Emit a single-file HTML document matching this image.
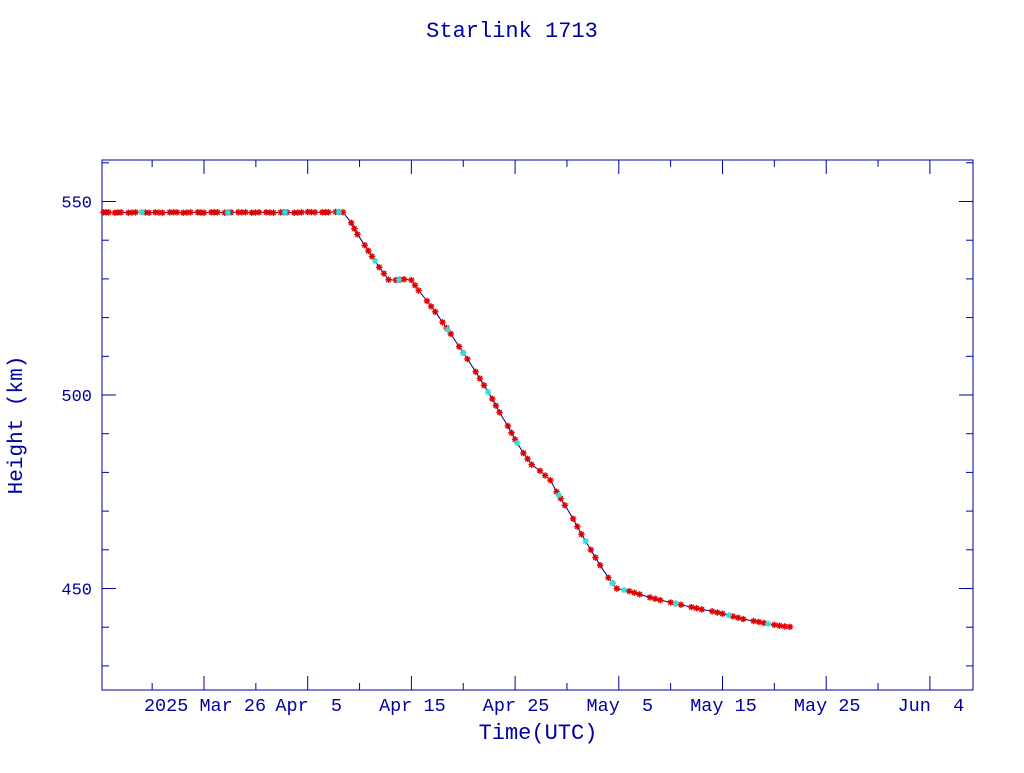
<!DOCTYPE html>
<html><head><meta charset="utf-8"><style>
body{margin:0;background:#fff;}
svg text{font-family:"Liberation Mono",monospace;fill:#0000a0;}
</style></head><body>
<svg id="chart" width="1024" height="768" viewBox="0 0 1024 768" xmlns="http://www.w3.org/2000/svg">
<text x="512" y="37" font-size="22" text-anchor="middle">Starlink 1713</text>
<rect x="102" y="160" width="871" height="530" fill="none" stroke="#0000a0" stroke-width="1"/>
<g id="axes"></g>
<path id="line" fill="none" stroke="#000080" stroke-width="1"/>
<g id="marks"></g>
<text x="538" y="739" font-size="22" text-anchor="middle">Time(UTC)</text>
<text x="22" y="425" font-size="21" text-anchor="middle" transform="rotate(-90 22 425)">Height (km)</text>
</svg>
<script>
// days relative to 2025 Mar 26
const days = [-9.7,-9.2,-8.6,-8,-7.3,-6.6,-6,-5.3,-4.7,-4,-3.3,-2.6,-2,-1.3,-0.6,0,0.7,1.3,2,2.6,3.3,4,4.6,5.3,6,6.7,7.4,8,8.7,9.4,10,10.7,11.4,12,12.7,13.4,14.2,14.8,15.5,16.2,16.9,17.8,18.5,19.3,20,20.7,21.5,22.3,23,23.8,24.6,25.4,26.2,27,27.8,28.5,29.3,30,30.8,31.6,32.4,33.4,34,34.8,35.6,36.4,37.3,38.2,39,39.8,41,42,43,44,45,46,47,48,49,50,51,52,53,54,55,56,56.5];
const heights = [547.2,547.2,547.1,547.2,547.1,547.2,547.2,547.1,547.2,547.1,547.2,547.2,547.1,547.2,547.2,547.1,547.2,547.2,547.1,547.2,547.2,547.2,547.1,547.2,547.2,547.1,547.2,547.2,547.1,547.2,547.3,547.2,547.2,547.2,547.3,547.2,544.5,541.5,538.7,535.8,533,529.8,529.7,529.9,529.7,527,524.3,521.5,518.8,515.8,512.5,509.3,506,502.5,499,495.5,492,488.5,485,482,480.4,478,475,471.5,468,464,460,456,452.8,450,449.3,448.5,447.7,447,446.4,445.8,445.2,444.6,444.1,443.5,442.8,442.1,441.6,441.1,440.6,440.2,440.1];
const cyanDays = [-6,2.3,7.8,13,16.5,18.8,23.5,25,27.4,30.2,34.2,36.8,39.4,40.5,45.5,50.6,54.4];
const yTicks = [450,500,550];
const xTickLabels = ["2025 Mar 26","Apr  5","Apr 15","Apr 25","May  5","May 15","May 25","Jun  4"];
const xTickDays = [0,10,20,30,40,50,60,70];

const NS="http://www.w3.org/2000/svg";
function X(d){return 204+d*10.37;}
function Y(h){return 395-(h-500)*3.87;}
function interp(d){for(let i=1;i<days.length;i++){if(days[i]>=d){const t=(d-days[i-1])/(days[i]-days[i-1]);return heights[i-1]+t*(heights[i]-heights[i-1]);}}return heights[heights.length-1];}
function mk(tag,attrs){const e=document.createElementNS(NS,tag);for(const k in attrs)e.setAttribute(k,attrs[k]);return e;}
const axes=document.getElementById('axes');
for(let h=430;h<=560;h+=10){
  const y=Y(h);const major=h%50===0;const L=major?14:7;
  const t1=mk('line',{x1:102,y1:y,x2:102+L,y2:y,stroke:'#0000a0'});
  
  
  axes.appendChild(t1);
  const t2=mk('line',{x1:973,y1:y,x2:973-L,y2:y,stroke:'#0000a0'});
  
  
  axes.appendChild(t2);
}
yTicks.forEach(h=>{
  const t=mk('text',{x:92,y:Y(h)+6,'font-size':17,'text-anchor':'end'});t.textContent=h;
  
  
  axes.appendChild(t);
});
for(let d=-5;d<=75;d+=5){
  const x=X(d);if(x<102||x>973)continue;const major=d%10===0;const L=major?14:7;
  const t1=mk('line',{x1:x,y1:690,x2:x,y2:690-L,stroke:'#0000a0'});
  
  
  axes.appendChild(t1);
  const t2=mk('line',{x1:x,y1:160,x2:x,y2:160+L,stroke:'#0000a0'});
  
  
  axes.appendChild(t2);
}
xTickDays.forEach((d,i)=>{
  const lab=xTickLabels[i];
  const t=mk('text',{x:X(d)+1,y:711,'font-size':18.5,'text-anchor':'middle'});
  t.setAttribute('xml:space','preserve');t.style.whiteSpace='pre';
  t.textContent=lab;
  
  
  axes.appendChild(t);
});
document.getElementById('line').setAttribute('d',days.map((d,i)=>(i?'L':'M')+X(d).toFixed(1)+' '+Y(heights[i]).toFixed(1)).join(' '));
const marks=document.getElementById('marks');
function star(x,y,c,name){
  const g=mk('g',{stroke:c,'stroke-width':1.4});
  
  
  const r=3.2;
  g.appendChild(mk('line',{x1:x-r,y1:y,x2:x+r,y2:y}));
  g.appendChild(mk('line',{x1:x,y1:y-r,x2:x,y2:y+r}));
  g.appendChild(mk('line',{x1:x-2.3,y1:y-2.3,x2:x+2.3,y2:y+2.3}));
  g.appendChild(mk('line',{x1:x-2.3,y1:y+2.3,x2:x+2.3,y2:y-2.3}));
  marks.appendChild(g);
}
days.forEach((d,i)=>{star(X(d),Y(heights[i]),'#e00000','observation-marker');
  if(i<days.length-1 && i%2===0){const m=(d+days[i+1])/2;star(X(m),Y((heights[i]+heights[i+1])/2),'#e00000','observation-marker');}
});
cyanDays.forEach(d=>star(X(d),Y(interp(d)),'#30e0e0','cyan-marker'));
</script>
</body></html>
